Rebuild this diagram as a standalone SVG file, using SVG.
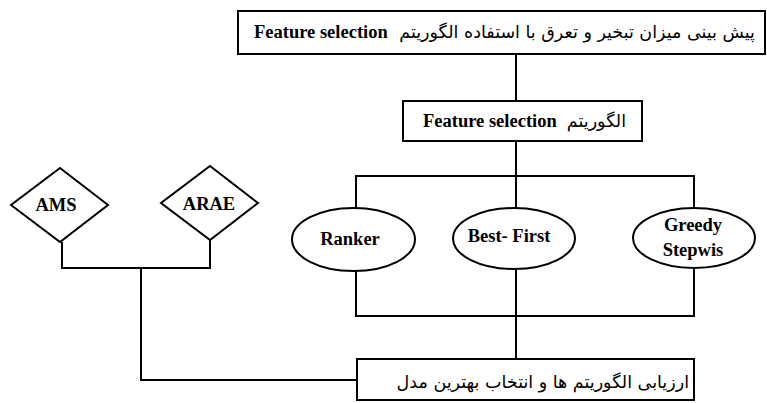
<svg xmlns="http://www.w3.org/2000/svg" width="767" height="403" viewBox="0 0 767 403">
<style>
.box{fill:#fff;stroke:#000;stroke-width:2}
.ln{fill:none;stroke:#000;stroke-width:2}
.en{font-family:"Liberation Serif","Times New Roman",serif;font-weight:bold;font-size:18.5px;fill:#000}
.fa{font-family:"DejaVu Sans","Noto Sans",sans-serif;font-size:17.5px;fill:#000}
</style>
<rect width="767" height="403" fill="#fff"/>
<g id="connectors">
<path class="ln" d="M516 54V101"/>
<path class="ln" d="M516 141V176"/>
<path class="ln" d="M356 208V176H694V208"/>
<path class="ln" d="M516 176V208"/>
<path class="ln" d="M356 271V316H694V267"/>
<path class="ln" d="M516 269V359"/>
<path class="ln" d="M62 242V268H210V240"/>
<path class="ln" d="M141 268V380H357"/>
</g>
<g id="top">
<rect class="box" x="238" y="11" width="527" height="43"/>
<text class="en" x="254" y="38">Feature selection</text>
<text class="fa" x="755" y="38" text-anchor="end">پیش بینی میزان تبخیر و تعرق با استفاده الگوریتم</text>
</g>
<g id="fs">
<rect class="box" x="403" y="101" width="239" height="40"/>
<text class="en" x="423" y="127">Feature selection</text>
<text class="fa" x="626" y="127" text-anchor="end">الگوریتم</text>
</g>
<g id="ranker">
<ellipse class="box" cx="353.5" cy="239.5" rx="61.5" ry="31.5"/>
<text class="en" x="350" y="245" text-anchor="middle">Ranker</text>
</g>
<g id="bestfirst">
<ellipse class="box" cx="514" cy="238.5" rx="61" ry="30.5"/>
<text class="en" x="509" y="242" text-anchor="middle">Best- First</text>
</g>
<g id="greedy">
<ellipse class="box" cx="694" cy="238" rx="61" ry="30"/>
<text class="en" x="693" y="231" text-anchor="middle">Greedy</text>
<text class="en" x="693" y="256" text-anchor="middle">Stepwis</text>
</g>
<g id="ams">
<polygon class="box" points="60,168 108,205 60,242 11,205"/>
<text class="en" x="56" y="211" text-anchor="middle">AMS</text>
</g>
<g id="arae">
<polygon class="box" points="210,166 258,203 210,240 161,203"/>
<text class="en" x="209" y="210" text-anchor="middle">ARAE</text>
</g>
<g id="eval">
<rect class="box" x="357" y="359" width="337" height="41"/>
<text class="fa" x="689" y="388" text-anchor="end">ارزیابی الگوریتم ها و انتخاب بهترین مدل</text>
</g>
</svg>
